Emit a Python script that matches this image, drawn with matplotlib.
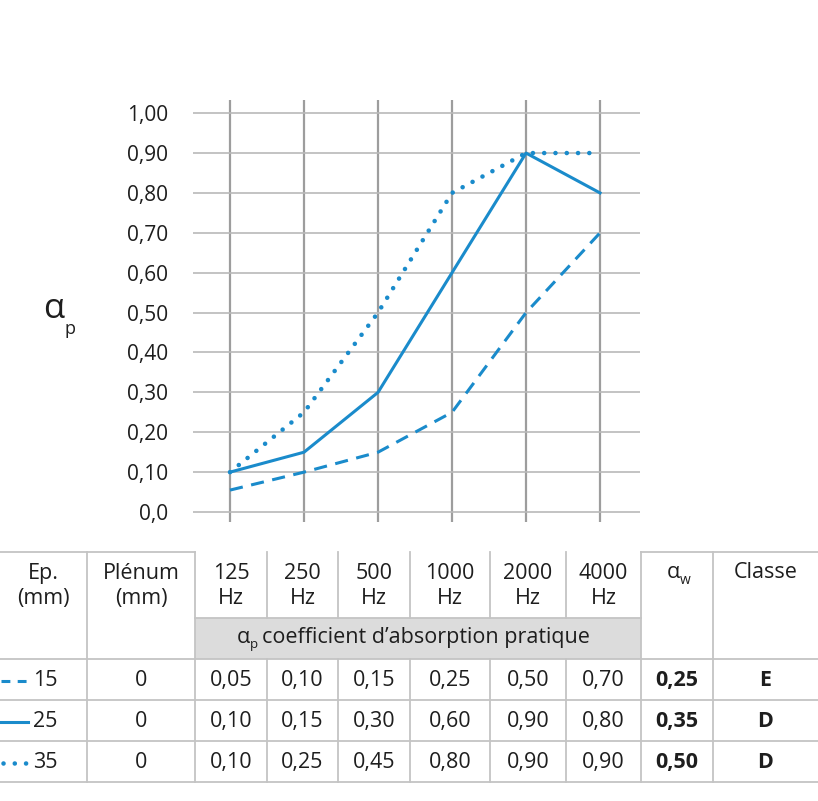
#!/usr/bin/env python3
"""Courbes d'absorption alpha_p + tableau récapitulatif."""
import matplotlib
matplotlib.use("Agg")
import matplotlib.pyplot as plt
from matplotlib.patches import Rectangle

plt.rcParams['font.family'] = ['Open Sans', 'DejaVu Sans']

freq_labels = ["125", "250", "500", "1000", "2000", "4000"]
y_ticks = [0.0, 0.1, 0.2, 0.3, 0.4, 0.5, 0.6, 0.7, 0.8, 0.9, 1.0]
y_tick_labels = ["0,0", "0,10", "0,20", "0,30", "0,40", "0,50",
                 "0,60", "0,70", "0,80", "0,90", "1,00"]

# courbes telles que tracées
thickness = ["15", "25", "35"]
curve_15 = [0.055, 0.10, 0.15, 0.25, 0.50, 0.70]
curve_25 = [0.10, 0.15, 0.30, 0.60, 0.90, 0.80]
curve_35 = [0.10, 0.25, 0.50, 0.80, 0.90, 0.90]

# tableau
plenum = ["0", "0", "0"]
table_15 = ["0,05", "0,10", "0,15", "0,25", "0,50", "0,70"]
table_25 = ["0,10", "0,15", "0,30", "0,60", "0,90", "0,80"]
table_35 = ["0,10", "0,25", "0,45", "0,80", "0,90", "0,90"]
alpha_w = ["0,25", "0,35", "0,50"]
classe = ["E", "D", "D"]

BLUE = "#1a8bcb"
TXT = "#1e1e1e"
W, H = 818, 801

fig = plt.figure(figsize=(W / 100, H / 100), dpi=100)

# ---- graphique
ax = fig.add_axes([193 / W, (H - 522) / H, 447 / W, 422 / H])
x = list(range(len(freq_labels)))
styles = [
    dict(linestyle=(0, (4.3, 2.8)), dash_capstyle='butt', linewidth=2.2),
    dict(linestyle='-', linewidth=2.2),
    dict(linestyle=(0, (0.01, 2.45)), dash_capstyle='round', linewidth=3.3),
]
for vals, st in zip([curve_15, curve_25, curve_35], styles):
    ax.plot(x, vals, color=BLUE, zorder=3, **st)

ax.set_xlim(-0.5, 5.54)
ax.set_ylim(-0.025, 1.033)
ax.set_yticks(y_ticks)
ax.set_yticklabels(y_tick_labels, fontsize=15, color=TXT)
ax.set_xticks(x)
ax.set_xticklabels([])
ax.tick_params(length=0, pad=18)
for s in ax.spines.values():
    s.set_visible(False)
ax.grid(axis='y', color="#b9b9b9", linewidth=1.2)
ax.grid(axis='x', color="#9d9d9d", linewidth=1.6)
ax.set_axisbelow(True)

# ---- tableau (coordonnées pixels)
tb = fig.add_axes([0, 0, 1, 1])
tb.set_xlim(0, W)
tb.set_ylim(H, 0)
tb.axis('off')

LINE = "#c4c4c4"
col_edges = [0, 87, 195, 267, 338, 410, 490, 566, 641, 713, 818]
col_c = [(a + b) / 2 for a, b in zip(col_edges[:-1], col_edges[1:])]
y_top, y_band, y_rows = 552, 618, 659
row_edges = [659, 700, 741, 782]

tb.add_patch(Rectangle((195, y_band), 641 - 195, y_rows - y_band,
                       facecolor="#dcdcdc", edgecolor='none'))

def hline(y, x0, x1):
    tb.plot([x0, x1], [y, y], color=LINE, linewidth=1.3)

def vline(xp, y0, y1):
    tb.plot([xp, xp], [y0, y1], color=LINE, linewidth=1.3)

hline(y_top, 0, 195)
hline(y_top, 641, 818)
hline(y_band, 195, 641)
for y in row_edges:
    hline(y, 0, 818)
for xp in col_edges[1:-1]:
    if 195 < xp < 641:
        vline(xp, y_top, y_band)
        vline(xp, y_rows, row_edges[-1])
    else:
        vline(xp, y_top, row_edges[-1])

fs = 15.5
tb.text(col_c[0], 586, "Ep.\n(mm)", ha='center', va='center', fontsize=fs,
        color=TXT, linespacing=1.22)
tb.text(col_c[1], 586, "Plénum\n(mm)", ha='center', va='center', fontsize=fs,
        color=TXT, linespacing=1.22)
for i, f in enumerate(freq_labels):
    tb.text(col_c[2 + i], 586, f + "\nHz", ha='center', va='center',
            fontsize=fs, color=TXT, linespacing=1.22)
tb.text(col_c[8] - 4, 573, "α", ha='center', va='center', fontsize=fs, color=TXT)
tb.text(col_c[8] + 3, 580, "w", ha='left', va='center', fontsize=10, color=TXT)
tb.text(col_c[9], 573, "Classe", ha='center', va='center', fontsize=fs, color=TXT)

band_y = (y_band + y_rows) / 2 - 1
tb.text(243, band_y, "α", ha='center', va='center', fontsize=fs, color=TXT)
tb.text(250, band_y + 7, "p", ha='left', va='center', fontsize=9.5, color=TXT)
tb.text(262, band_y, "coefficient d’absorption pratique", ha='left',
        va='center', fontsize=fs, color=TXT)

rows = [table_15, table_25, table_35]
samples = [
    dict(linestyle=(0, (2.9, 2.4)), dash_capstyle='butt', linewidth=2.2),
    dict(linestyle='-', linewidth=2.2),
    dict(linestyle=(0, (0.01, 2.45)), dash_capstyle='round', linewidth=3.3),
]
for r in range(3):
    yc = (row_edges[r] + row_edges[r + 1]) / 2 + 1
    x0 = 3 if r == 2 else 1
    tb.plot([x0, 28], [yc, yc], color=BLUE, **samples[r])
    tb.text(33, yc, thickness[r], ha='left', va='center', fontsize=fs, color=TXT)
    tb.text(col_c[1], yc, plenum[r], ha='center', va='center', fontsize=fs, color=TXT)
    for i, v in enumerate(rows[r]):
        tb.text(col_c[2 + i], yc, v, ha='center', va='center', fontsize=fs, color=TXT)
    tb.text(col_c[8], yc, alpha_w[r], ha='center', va='center', fontsize=fs,
            color=TXT, fontweight='bold')
    tb.text(col_c[9], yc, classe[r], ha='center', va='center', fontsize=fs,
            color=TXT, fontweight='bold')

# libellé axe y
fig.text(54 / W, 1 - 309 / H, "α", ha='center', va='center', fontsize=25, color=TXT)
fig.text(64 / W, 1 - 329 / H, "p", ha='left', va='center', fontsize=13, color=TXT)

fig.savefig("out.png", dpi=100)
